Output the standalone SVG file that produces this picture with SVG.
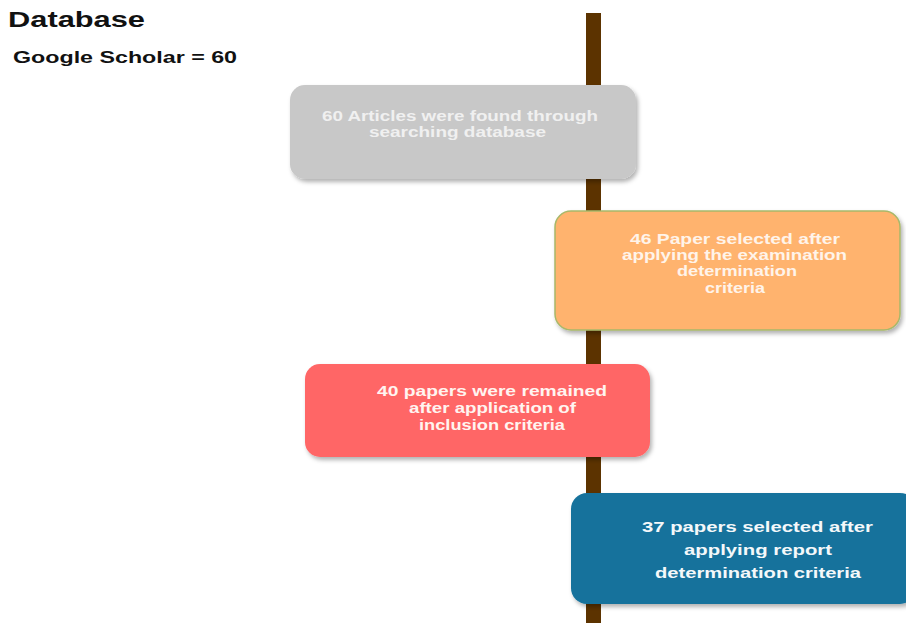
<svg xmlns="http://www.w3.org/2000/svg" width="906" height="623" viewBox="0 0 906 623">
<defs>
<filter id="sh" x="-10%" y="-10%" width="130%" height="140%">
<feDropShadow dx="2" dy="3" stdDeviation="2" flood-color="#000" flood-opacity="0.3"/>
</filter>
<style>
.t{font-family:"Liberation Sans",Arial,sans-serif;font-weight:bold;text-anchor:middle;}
.h{font-family:"Liberation Sans",Arial,sans-serif;font-weight:bold;fill:#111;}
</style>
</defs>
<rect width="906" height="623" fill="#fff"/>
<text class="h" x="8" y="27" font-size="22" textLength="137" lengthAdjust="spacingAndGlyphs">Database</text>
<text class="h" x="13" y="63" font-size="16" textLength="224" lengthAdjust="spacingAndGlyphs">Google Scholar = 60</text>
<g id="connectors">
<rect x="586" y="13" width="15" height="610" fill="#5c3300"/>
</g>
<g id="n1">
<rect x="290" y="85" width="346" height="94" rx="15" fill="#c8c8c8" filter="url(#sh)"/>
<g class="t" font-size="14.5" fill="#f0f0f0">
<text x="460" y="121" textLength="276" lengthAdjust="spacingAndGlyphs">60 Articles were found through</text>
<text x="457.5" y="137" textLength="177" lengthAdjust="spacingAndGlyphs">searching database</text>
</g>
</g>
<g id="n2">
<rect x="555" y="211" width="345" height="119" rx="16" fill="#ffb36e" stroke="#a8b86a" stroke-width="1.5" filter="url(#sh)"/>
<g class="t" font-size="14.5" fill="#fff4ea">
<text x="735" y="244" textLength="210" lengthAdjust="spacingAndGlyphs">46 Paper selected after</text>
<text x="734.5" y="260" textLength="225" lengthAdjust="spacingAndGlyphs">applying the examination</text>
<text x="737" y="276" textLength="120" lengthAdjust="spacingAndGlyphs">determination</text>
<text x="735" y="293" textLength="60" lengthAdjust="spacingAndGlyphs">criteria</text>
</g>
</g>
<g id="n3">
<rect x="305" y="364" width="345" height="93" rx="15" fill="#ff6666" filter="url(#sh)"/>
<g class="t" font-size="15" fill="#fff4f0">
<text x="492" y="396" textLength="230" lengthAdjust="spacingAndGlyphs">40 papers were remained</text>
<text x="492.5" y="413" textLength="167" lengthAdjust="spacingAndGlyphs">after application of</text>
<text x="492" y="430" textLength="146" lengthAdjust="spacingAndGlyphs">inclusion criteria</text>
</g>
</g>
<g id="n4">
<rect x="571" y="493" width="345" height="111" rx="16" fill="#15729c" filter="url(#sh)"/>
<g class="t" font-size="15.5" fill="#f4f8fa">
<text x="757.5" y="532" textLength="231" lengthAdjust="spacingAndGlyphs">37 papers selected after</text>
<text x="758" y="555" textLength="148" lengthAdjust="spacingAndGlyphs">applying report</text>
<text x="758" y="578" textLength="206" lengthAdjust="spacingAndGlyphs">determination criteria</text>
</g>
</g>
</svg>
